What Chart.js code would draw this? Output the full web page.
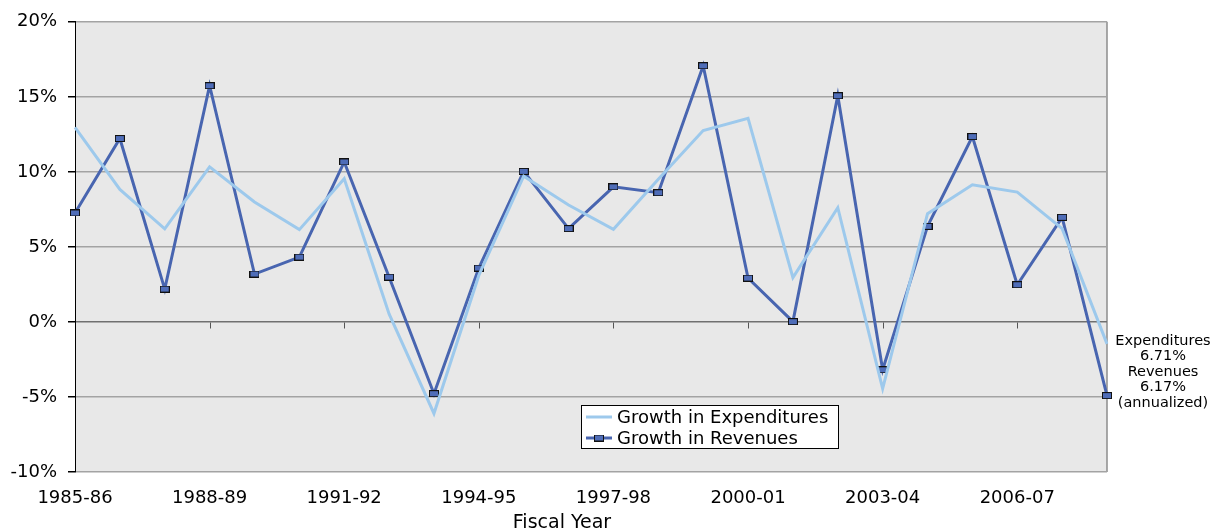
<!DOCTYPE html>
<html>
<head>
<meta charset="utf-8">
<script src="https://cdn.jsdelivr.net/npm/chart.js@4"></script>
<style>
  html, body { margin: 0; padding: 0; background: #fff; }
  #wrap { width: 1211px; height: 529px; position: relative; }
</style>
</head>
<body>
<div id="wrap"><canvas id="growthChart" width="1211" height="529"></canvas></div>
<script>
const fiscalYears = ['1985-86', '1986-87', '1987-88', '1988-89', '1989-90', '1990-91', '1991-92', '1992-93',
  '1993-94', '1994-95', '1995-96', '1996-97', '1997-98', '1998-99', '1999-00', '2000-01',
  '2001-02', '2002-03', '2003-04', '2004-05', '2005-06', '2006-07', '2007-08', '2008-09'];

const expenditureGrowth = [12.97, 8.83, 6.2, 10.33, 7.99, 6.15, 9.54, 0.53, -6.1, 3.1, 9.71, 7.79,
  6.17, 9.5, 12.75, 13.57, 2.96, 7.61, -4.45, 7.21, 9.14, 8.65, 6.22, -1.46];

const revenueGrowth = [7.26, 12.22, 2.19, 15.74, 3.19, 4.32, 10.66, 2.99, -4.78, 3.59, 10.03, 6.22,
  9.0, 8.61, 17.07, 2.92, 0.02, 15.07, -3.19, 6.37, 12.35, 2.48, 6.97, -4.91];

const yTicks = [-10, -5, 0, 5, 10, 15, 20];
const summaryLines = ['Expenditures', '6.71%', 'Revenues', '6.17%', '(annualized)'];

const FONT = '"DejaVu Sans", sans-serif';
const EXP_COLOR = '#9dc9ec';
const REV_COLOR = '#4865b0';

// little square marker, a bit wider than tall
function makeMarker() {
  const c = document.createElement('canvas');
  c.width = 10; c.height = 7;
  const g = c.getContext('2d');
  g.fillStyle = '#4f6db8';
  g.fillRect(0, 0, 10, 7);
  g.strokeStyle = '#111';
  g.lineWidth = 1;
  g.strokeRect(0.5, 0.5, 9, 6);
  return c;
}
const marker = makeMarker();

// grey plot background and right frame line
const plotFrame = {
  id: 'plotFrame',
  beforeDraw(chart) {
    const { ctx, chartArea: a } = chart;
    ctx.save();
    ctx.fillStyle = '#e8e8e8';
    ctx.fillRect(a.left, a.top, a.right - a.left, a.bottom - a.top);
    ctx.strokeStyle = '#8c8c8c';
    ctx.lineWidth = 1.5;
    ctx.beginPath();
    ctx.moveTo(a.right, a.top);
    ctx.lineTo(a.right, a.bottom);
    ctx.stroke();
    ctx.restore();
  },
  // category tick marks hang off the zero line
  beforeDatasetsDraw(chart) {
    const { ctx, scales: { x, y } } = chart;
    const y0 = Math.round(y.getPixelForValue(0)) + 0.5;
    ctx.save();
    ctx.strokeStyle = '#555';
    ctx.lineWidth = 1;
    ctx.beginPath();
    fiscalYears.forEach((yr, i) => {
      if (i % 3 !== 0 || i === 0) return;
      const px = Math.round(x.getPixelForValue(i)) + 0.5;
      ctx.moveTo(px, y0);
      ctx.lineTo(px, y0 + 6);
    });
    ctx.stroke();
    ctx.restore();
  }
};

// legend box inside the plot, annualized note and axis title
const extras = {
  id: 'extras',
  afterDraw(chart) {
    const { ctx } = chart;
    ctx.save();
    // legend
    const bx = 581.5, by = 405.5, bw = 257, bh = 43;
    ctx.fillStyle = '#fff';
    ctx.fillRect(bx, by, bw, bh);
    ctx.strokeStyle = '#000';
    ctx.lineWidth = 1;
    ctx.strokeRect(bx, by, bw, bh);
    const rows = [
      { label: chart.data.datasets[0].label, color: EXP_COLOR, y: 417, mark: false },
      { label: chart.data.datasets[1].label, color: REV_COLOR, y: 438, mark: true }
    ];
    ctx.font = '18px ' + FONT;
    ctx.textBaseline = 'middle';
    ctx.textAlign = 'left';
    rows.forEach(r => {
      ctx.strokeStyle = r.color;
      ctx.lineWidth = 3;
      ctx.beginPath();
      ctx.moveTo(586, r.y);
      ctx.lineTo(612, r.y);
      ctx.stroke();
      if (r.mark) ctx.drawImage(marker, 599 - 5, r.y - 3.5);
      ctx.fillStyle = '#000';
      ctx.fillText(r.label, 617, r.y + 1);
    });
    // annualized note
    ctx.font = '14.5px ' + FONT;
    ctx.textAlign = 'center';
    summaryLines.forEach((t, i) => ctx.fillText(t, 1163, 341 + i * 15.5));
    // axis title
    ctx.font = '19px ' + FONT;
    ctx.fillText('Fiscal Year', 562, 523);
    ctx.restore();
  }
};

const ctx = document.getElementById('growthChart').getContext('2d');
new Chart(ctx, {
  type: 'line',
  data: {
    labels: fiscalYears,
    datasets: [{
      label: 'Growth in Expenditures',
      data: expenditureGrowth,
      borderColor: EXP_COLOR,
      borderWidth: 3,
      pointRadius: 0,
      tension: 0
    }, {
      label: 'Growth in Revenues',
      data: revenueGrowth,
      borderColor: REV_COLOR,
      borderWidth: 3,
      pointStyle: marker,
      pointRadius: 5,
      tension: 0
    }]
  },
  options: {
    responsive: false,
    animation: false,
    events: [],
    layout: { padding: { top: 20, right: 104, left: 0, bottom: 0 } },
    plugins: { legend: { display: false }, tooltip: { enabled: false } },
    scales: {
      x: {
        offset: false,
        grid: { display: false },
        border: { display: false },
        ticks: {
          autoSkip: false,
          maxRotation: 0,
          padding: 8,
          color: '#000',
          font: { family: FONT, size: 18 },
          callback: (v, i) => (i % 3 === 0 && i < 23 ? fiscalYears[i] : '')
        },
        afterFit: s => { s.height = 57; }
      },
      y: {
        min: -10,
        max: 20,
        afterBuildTicks: s => { s.ticks = yTicks.map(v => ({ value: v })); },
        grid: {
          color: c => (c.tick && c.tick.value === 0 ? '#707070' : '#a3a3a3'),
          lineWidth: 1.5,
          tickLength: 7,
          tickColor: '#000'
        },
        border: { color: '#000', width: 1 },
        ticks: {
          padding: 11,
          color: '#000',
          font: { family: FONT, size: 18 },
          callback: v => v + '%'
        },
        afterFit: s => { s.width = 75; }
      }
    }
  },
  plugins: [plotFrame, extras]
});
</script>
</body>
</html>
